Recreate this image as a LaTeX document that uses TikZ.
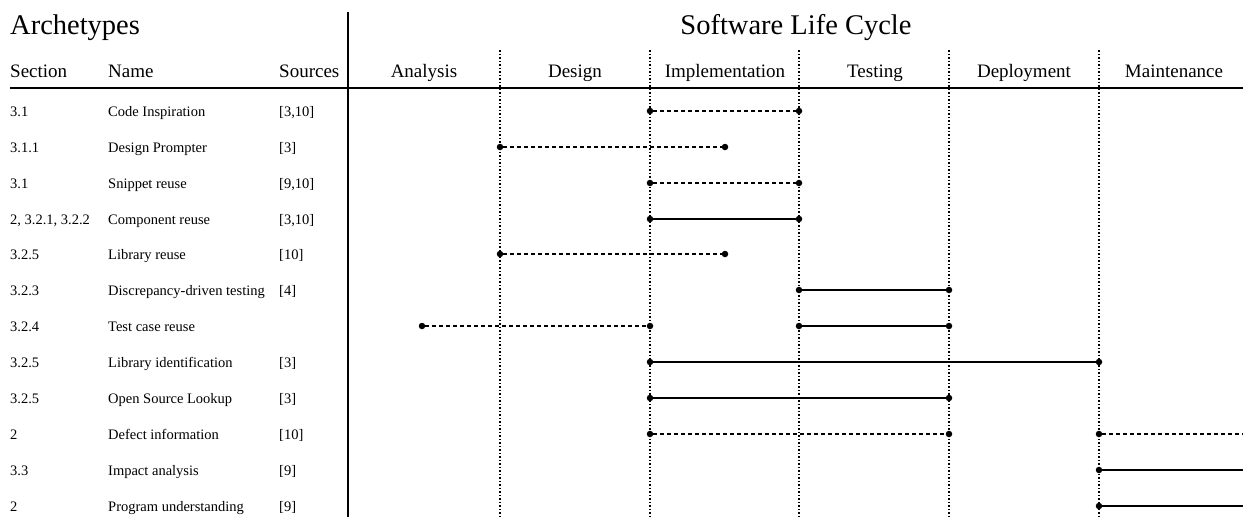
\documentclass[tikz,border=0pt]{standalone}
\usepackage{fontspec}
\setmainfont{Liberation Serif}
\usepackage{tikz}

\begin{document}
\begin{tikzpicture}[x=1pt,y=-1pt,line cap=butt,
	cell/.style={anchor=base west,inner sep=0pt,font=\fontsize{14.5}{16}\selectfont},
	head/.style={anchor=base,inner sep=0pt,font=\fontsize{19}{21}\selectfont},
	title/.style={anchor=base,inner sep=0pt,font=\fontsize{28.5}{31}\selectfont},
	dot/.style={circle,fill=black,inner sep=0pt,minimum size=6.5pt},
	phase/.style={line width=1.5pt,dash pattern=on 1.5pt off 2pt},
	plan/.style={line width=1.2pt,dash pattern=on 4pt off 3pt},
	done/.style={line width=1.3pt}]
		\useasboundingbox (0,0) rectangle (1243,517);
		% Titel
		\node[title,anchor=base west] (arch) at (10,34) {Archetypes};
		\node[title] (cycle) at (796,34) {Software Life Cycle};
		% Kopfzeile
		\node[head,anchor=base west] (hsec) at (10,77) {Section};
		\node[head,anchor=base west] (hname) at (108,77) {Name};
		\node[head,anchor=base west] (hsrc) at (279,77) {Sources};
		\node[head] (ana) at (424,77) {Analysis};
		\node[head] (des) at (575,77) {Design};
		\node[head] (imp) at (725,77) {Implementation};
		\node[head] (tes) at (875,77) {Testing};
		\node[head] (dep) at (1024,77) {Deployment};
		\node[head] (mai) at (1174,77) {Maintenance};
		% Linien
		\draw[line width=1.5pt] (10,88)--(1243,88);
		\draw[line width=1.5pt] (348,12)--(348,517);
		\draw[phase] (500,50)--(500,517);
		\draw[phase] (650,50)--(650,517);
		\draw[phase] (799,50)--(799,517);
		\draw[phase] (949,50)--(949,517);
		\draw[phase] (1099,50)--(1099,517);
		% Zeile 1
		\node[cell] (s1) at (10,116) {3.1};
		\node[cell] (n1) at (108,116) {Code Inspiration};
		\node[cell] (r1) at (279,116) {[3,10]};
		\node[dot] (a1) at (650,111) {};
		\node[dot] (b1) at (799,111) {};
		\draw[plan] (a1)--(b1);
		% Zeile 2
		\node[cell] (s2) at (10,152) {3.1.1};
		\node[cell] (n2) at (108,152) {Design Prompter};
		\node[cell] (r2) at (279,152) {[3]};
		\node[dot] (a2) at (500,147) {};
		\node[dot] (b2) at (725,147) {};
		\draw[plan] (a2)--(b2);
		% Zeile 3
		\node[cell] (s3) at (10,188) {3.1};
		\node[cell] (n3) at (108,188) {Snippet reuse};
		\node[cell] (r3) at (279,188) {[9,10]};
		\node[dot] (a3) at (650,183) {};
		\node[dot] (b3) at (799,183) {};
		\draw[plan] (a3)--(b3);
		% Zeile 4
		\node[cell] (s4) at (10,224) {2, 3.2.1, 3.2.2};
		\node[cell] (n4) at (108,224) {Component reuse};
		\node[cell] (r4) at (279,224) {[3,10]};
		\node[dot] (a4) at (650,219) {};
		\node[dot] (b4) at (799,219) {};
		\draw[done] (a4)--(b4);
		% Zeile 5
		\node[cell] (s5) at (10,259) {3.2.5};
		\node[cell] (n5) at (108,259) {Library reuse};
		\node[cell] (r5) at (279,259) {[10]};
		\node[dot] (a5) at (500,254) {};
		\node[dot] (b5) at (725,254) {};
		\draw[plan] (a5)--(b5);
		% Zeile 6
		\node[cell] (s6) at (10,295) {3.2.3};
		\node[cell] (n6) at (108,295) {Discrepancy-driven testing};
		\node[cell] (r6) at (279,295) {[4]};
		\node[dot] (a6) at (799,290) {};
		\node[dot] (b6) at (949,290) {};
		\draw[done] (a6)--(b6);
		% Zeile 7
		\node[cell] (s7) at (10,331) {3.2.4};
		\node[cell] (n7) at (108,331) {Test case reuse};
		\node[dot] (a7) at (422,326) {};
		\node[dot] (b7) at (650,326) {};
		\draw[plan] (a7)--(b7);
		\node[dot] (c7) at (799,326) {};
		\node[dot] (d7) at (949,326) {};
		\draw[done] (c7)--(d7);
		% Zeile 8
		\node[cell] (s8) at (10,367) {3.2.5};
		\node[cell] (n8) at (108,367) {Library identification};
		\node[cell] (r8) at (279,367) {[3]};
		\node[dot] (a8) at (650,362) {};
		\node[dot] (b8) at (1099,362) {};
		\draw[done] (a8)--(b8);
		% Zeile 9
		\node[cell] (s9) at (10,403) {3.2.5};
		\node[cell] (n9) at (108,403) {Open Source Lookup};
		\node[cell] (r9) at (279,403) {[3]};
		\node[dot] (a9) at (650,398) {};
		\node[dot] (b9) at (949,398) {};
		\draw[done] (a9)--(b9);
		% Zeile 10
		\node[cell] (s10) at (10,439) {2};
		\node[cell] (n10) at (108,439) {Defect information};
		\node[cell] (r10) at (279,439) {[10]};
		\node[dot] (a10) at (650,434) {};
		\node[dot] (b10) at (949,434) {};
		\draw[plan] (a10)--(b10);
		\node[dot] (c10) at (1099,434) {};
		\coordinate (d10) at (1243,434);
		\draw[plan] (c10)--(d10);
		% Zeile 11
		\node[cell] (s11) at (10,475) {3.3};
		\node[cell] (n11) at (108,475) {Impact analysis};
		\node[cell] (r11) at (279,475) {[9]};
		\node[dot] (c11) at (1099,470) {};
		\coordinate (d11) at (1243,470);
		\draw[done] (c11)--(d11);
		% Zeile 12
		\node[cell] (s12) at (10,511) {2};
		\node[cell] (n12) at (108,511) {Program understanding};
		\node[cell] (r12) at (279,511) {[9]};
		\node[dot] (c12) at (1099,506) {};
		\coordinate (d12) at (1243,506);
		\draw[done] (c12)--(d12);
\end{tikzpicture}
\end{document}
